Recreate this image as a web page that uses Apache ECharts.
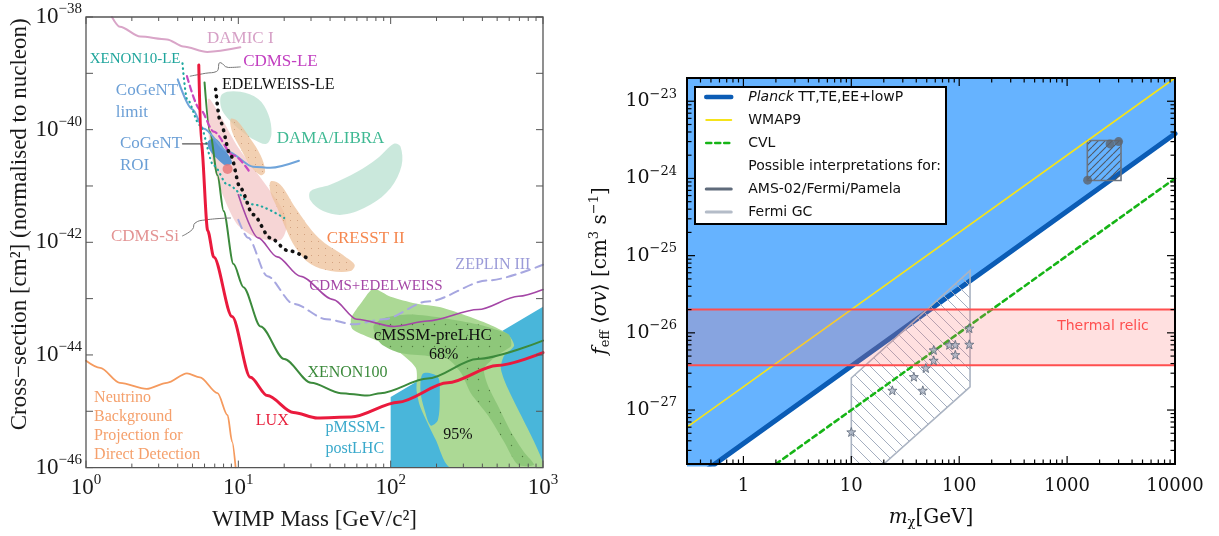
<!DOCTYPE html>
<html>
<head>
<meta charset="utf-8">
<script src="https://cdn.jsdelivr.net/npm/echarts@6/dist/echarts.min.js"></script>
<style>
html,body{margin:0;padding:0;background:#ffffff;}
#chart{width:1219px;height:536px;}
</style>
</head>
<body>
<div id="chart"></div>
<script>
// ================= LEFT PANEL DATA: WIMP mass [GeV/c^2] vs cross-section [cm^2] =================
const leftXRange = [1, 1000];
const leftYRange = [1e-46, 1e-38];
const leftXDecades = [1, 10, 100, 1000];
const leftYDecades = [1e-46, 1e-45, 1e-44, 1e-43, 1e-42, 1e-41, 1e-40, 1e-39, 1e-38];

const luxCurve = [[5.5,1.4e-39],[5.7,6e-41],[6.3,1.6e-42],[6.9,5.5e-43],[9.1,4.8e-44],[12,4e-45],[15.5,1.9e-45],[23,9.5e-46],[33,7.6e-46],[55,7.9e-46],[112,1.45e-45],[237,3.2e-45],[500,6.5e-45],[1000,1.1e-44]];
const xenon100Curve = [[6.0,6.9e-40],[6.5,9.2e-41],[7.3,1.55e-41],[8.0,3.6e-42],[9.3,4.1e-43],[10.8,1.6e-43],[14,3.2e-44],[20,8.5e-45],[30,3.2e-45],[47,2.1e-45],[70,1.9e-45],[86,2.1e-45],[175,3.8e-45],[370,8.5e-45],[1000,1.8e-44]];
const cdmsEdelweissCurve = [[10,7e-42],[13.5,1.2e-42],[18,5.5e-43],[25.5,2.5e-43],[42,9.6e-44],[60,4.3e-44],[105,3.2e-44],[175,4e-44],[375,6.4e-44],[690,1.1e-43],[1000,1.45e-43]];
const zeplinCurve = [[10,2.5e-42],[11.6,1.2e-42],[15.5,2.5e-43],[23,8.1e-44],[38,4.3e-44],[57,3.5e-44],[90,4.3e-44],[175,8.9e-44],[435,2.1e-43],[1000,4e-43]];
const xenon10LECurve = [[4.3,1.5e-39],[4.6,3.5e-40],[5.6,1.2e-40],[6.9,2.3e-41],[8.5,1.05e-41],[12.5,4.7e-42],[20,2.7e-42]];
const cdmsLECurve = [[4.6,8.9e-40],[5.6,2.3e-40],[6.9,9.2e-41],[9.3,3.5e-41],[12,1.7e-41]];
const edelweissLECurve = [[7.1,5.2e-40],[7.6,1.4e-40],[8.9,3.5e-41],[10.3,9.2e-42],[12.5,3.1e-42],[16.2,1.2e-42],[21,7.2e-43],[30,4.8e-43]];
const cogentLimitCurve = [[4.0,7.8e-40],[5.0,2.3e-40],[5.9,1.05e-40],[8.5,4.1e-41],[12.5,2.2e-41],[16.2,2.1e-41],[25,2.8e-41]];
const damicCurve = [[1.48,1e-38],[1.67,6.7e-39],[2.27,4.5e-39],[3.4,4e-39],[4.35,3e-39],[6.25,2.4e-39],[10.3,2.9e-39]];
const neutrinoCurve = [[1,7.9e-45],[1.24,5.9e-45],[1.67,3.2e-45],[2.5,2.5e-45],[3.4,3.2e-45],[4.6,4.7e-45],[5.6,4e-45],[7.3,2.1e-45],[8.5,8.5e-46],[9.1,2.9e-46],[9.6,1e-46]];

const cdmsSiRegion = [[6.3,3.5e-40],[6.5,4.7e-41],[7.6,9.2e-42],[9.8,2.1e-42],[13.3,1.2e-42],[18.9,1.1e-42],[20.7,1.8e-42],[19.8,3.6e-42],[14.6,1.2e-41],[9.8,5.2e-41],[7.6,1.8e-40],[6.5,3.5e-40]];
const damaLowRegion = [[7.85,4.3e-40],[10.3,4.7e-40],[13.5,3.5e-40],[15.7,1.9e-40],[16.5,8.5e-41],[15.3,5.6e-41],[12.9,6.5e-41],[10.6,9.2e-41],[8.6,1.55e-40],[7.7,2.5e-40]];
const damaHighRegion = [[29.8,8.1e-42],[40,1.05e-41],[60.7,1.8e-41],[82,3.1e-41],[105,5.6e-41],[116,5e-41],[118,2.3e-41],[100,9.2e-42],[74,4.7e-42],[49,3.1e-42],[36,3.6e-42],[29.8,5.5e-42]];
const cresstLowRegion = [[8.9,1.55e-40],[9.8,1.45e-40],[12,6.9e-41],[14,3.5e-41],[15,1.8e-41],[14,1.55e-41],[12,2.3e-41],[10.3,4.7e-41],[9.1,9.2e-41]];
const cresstHighRegion = [[16.3,1.2e-41],[18.9,1.05e-41],[23.7,4.1e-42],[33.6,1.2e-42],[50.6,5.5e-43],[58,4e-43],[54.6,3.1e-43],[40.3,3.1e-43],[29.8,4.1e-43],[23.7,8.1e-43],[20.4,1.8e-42],[18,4.1e-42],[16.3,7.6e-42]];
const cogentROIRegion = [[6.3,6.1e-41],[7.1,6.9e-41],[8.2,4.3e-41],[9.1,2.6e-41],[8.3,2.3e-41],[7.2,3.1e-41],[6.5,4.3e-41]];
const cdmsSiBestFit = [[8.5,2e-41]];
const pmssmRegion = [[100,1e-46],[100,1.8e-45],[1000,7.2e-44],[1000,1e-46]];
const cmssm95Region = [[77,1.5e-43],[100,1.08e-43],[146,8.2e-44],[213,7e-44],[311,5e-44],[441,3.5e-44],[589,2.3e-44],[646,1.45e-44],[554,9.6e-45],[529,5.7e-45],[589,2.5e-45],[717,8.5e-46],[873,2.9e-46],[1000,1.23e-46],[1000,1e-46],[248,1e-46],[198,3.1e-46],[157,1.17e-45],[148,2.3e-45],[146,5.9e-45],[105,1.3e-44],[74,2e-44],[56,2.9e-44],[55,4.5e-44],[65,8.9e-44]];
const cmssm95Gap = [[163,4.7e-45],[204,4.1e-45],[210,1.9e-45],[204,6.9e-46],[183,5.6e-46],[167,1.05e-45],[157,2.3e-45]];
const cmssm68Region = [[77,3.2e-44],[90,4.5e-44],[135,5.2e-44],[223,4.5e-44],[373,3.5e-44],[475,2.9e-44],[597,2.3e-44],[617,1.45e-44],[528,1.08e-44],[455,7.9e-45],[409,5.7e-45],[434,2.9e-45],[505,1.27e-45],[617,4.3e-46],[750,1.9e-46],[873,1.12e-46],[685,1.12e-46],[554,2.9e-46],[435,8.5e-46],[336,2.1e-45],[290,4.8e-45],[237,8.5e-45],[175,9.6e-45],[116,1.08e-44],[86,1.6e-44]];

const cdmsLELeader = [[10.3,1.3e-39],[8.6,1.27e-39],[7.6,1.55e-39],[7.2,1.08e-39],[6.07,1e-39],[4.83,8.9e-40]];
const cdmsSiLeader = [[4.3,1.3e-42],[5.0,1.7e-42],[5.2,2.2e-42],[6.1,2.5e-42],[8.9,2.7e-42]];
const cogentROILeader = [[4.3,5.6e-41],[6.25,5.6e-41]];

// label text + anchor (mass, cross-section)
const leftLabels = [
  ['DAMIC I', 10.3, 4.1e-39],
  ['XENON10-LE', 2.1, 1.76e-39],
  ['CDMS-LE', 18.9, 1.62e-39],
  ['EDELWEISS-LE', 18.3, 6.2e-40],
  ['CoGeNT\nlimit', 1.57, 3.2e-40],
  ['CoGeNT\nROI', 1.67, 3.6e-41],
  ['DAMA/LIBRA', 40.3, 6.9e-41],
  ['CRESST II', 68.5, 1.17e-42],
  ['CDMS-Si', 2.44, 1.27e-42],
  ['ZEPLIN III', 469, 4e-43],
  ['CDMS+EDELWEISS', 80, 1.7e-43],
  ['cMSSM-preLHC', 189, 2.24e-44],
  ['68%', 223, 1.0e-44],
  ['XENON100', 52, 4.8e-45],
  ['LUX', 16.7, 6.7e-46],
  ['pMSSM-\npostLHC', 37.3, 3.3e-46],
  ['95%', 276, 3.8e-46],
  ['Neutrino\nBackground\nProjection for\nDirect Detection', 1.13, 5.4e-46]
];

// ================= RIGHT PANEL DATA: m_chi [GeV] vs f_eff <sigma v> [cm^3 s^-1] =================
const rightXRange = [0.3, 10000];
const rightYRange = [2e-28, 2e-23];
const rightXDecades = [1, 10, 100, 1000, 10000];
const rightXMinorDecades = [0.1, 1, 10, 100, 1000];
const rightYDecades = [1e-27, 1e-26, 1e-25, 1e-24, 1e-23];
const rightYMinorDecades = [1e-28, 1e-27, 1e-26, 1e-25, 1e-24, 1e-23];
const minorMultipliers = [2, 3, 4, 5, 6, 7, 8, 9];

const planckLine = [[0.3, 1.1e-28], [10000, 3.8e-24]];
const wmap9Line = [[0.3, 6e-28], [10000, 2e-23]];
const cvlLine = [[2, 2e-28], [10000, 1e-24]];
const thermalRelic = [3.8e-27, 2e-26];
const thermalLabel = [[2150, 1.2e-26]];
const amsBox = [[1540, 9.4e-25], [3160, 9.4e-25], [3160, 3.1e-24], [1540, 3.1e-24]];
const amsPoints = [[1550, 9.5e-25], [2500, 2.8e-24], [3000, 3.0e-24]];
const fermiGCRegion = [[10, 2e-28], [10, 2.6e-27], [126, 6.4e-26], [126, 2e-27], [20, 2e-28]];
const fermiGCPoints = [[10,5.2e-28],[24,1.8e-27],[38,2.7e-27],[46,1.8e-27],[49,3.5e-27],[58,4.4e-27],[58,6e-27],[81,7e-27],[92,7e-27],[92,5.2e-27],[124,7.1e-27],[124,1.15e-26]];

// ================= unit scaling (ECharts log axes lose precision near 1e-40) =================
const LEFT_EXP = 40, RIGHT_EXP = 28;
const LK = Math.pow(10, LEFT_EXP), RK = Math.pow(10, RIGHT_EXP);
const sL = pts => pts.map(p => [p[0], p[1] * LK]);
const sR = pts => pts.map(p => [p[0], p[1] * RK]);
const LYR = leftYRange.map(v => v * LK), RYR = rightYRange.map(v => v * RK);

// ================= STYLES =================
const FONT_L = '"Liberation Serif", "Times New Roman", serif';
const FONT_R = '"DejaVu Serif", serif';
const FONT_S = '"DejaVu Sans", sans-serif';
const MINUS = '\u2212';

const labelStyle = {
  'DAMIC I': {c:'#d6a0c6', s:17, a:'center'},
  'XENON10-LE': {c:'#1fa59c', s:15, a:'center'},
  'CDMS-LE': {c:'#c23fc0', s:17, a:'center'},
  'EDELWEISS-LE': {c:'#111111', s:16, a:'center'},
  'CoGeNT\nlimit': {c:'#6b9fd6', s:17, a:'left', lh:22},
  'CoGeNT\nROI': {c:'#6b9fd6', s:17, a:'left', lh:22},
  'DAMA/LIBRA': {c:'#3fb993', s:17, a:'center'},
  'CRESST II': {c:'#f5874f', s:17, a:'center'},
  'CDMS-Si': {c:'#e39393', s:17, a:'center'},
  'ZEPLIN III': {c:'#9b9bd8', s:16, a:'center'},
  'CDMS+EDELWEISS': {c:'#a446a6', s:15, a:'center'},
  'cMSSM-preLHC': {c:'#111111', s:17, a:'center'},
  '68%': {c:'#111111', s:16, a:'center'},
  'XENON100': {c:'#3b8a3b', s:16, a:'center'},
  'LUX': {c:'#e8203c', s:16, a:'center'},
  'pMSSM-\npostLHC': {c:'#3aa9cb', s:16, a:'left', lh:21},
  '95%': {c:'#111111', s:16, a:'center'},
  'Neutrino\nBackground\nProjection for\nDirect Detection': {c:'#f5a06c', s:16, a:'left', lh:19}
};

function makeHatch(size, color, lw, dir, bg) {
  const c = document.createElement('canvas');
  c.width = size; c.height = size;
  const g = c.getContext('2d');
  if (bg) { g.fillStyle = bg; g.fillRect(0, 0, size, size); }
  g.strokeStyle = color; g.lineWidth = lw;
  g.beginPath();
  for (let k = -1; k <= 1; k++) {
    if (dir === '/') { g.moveTo(k * size, size); g.lineTo(k * size + size, 0); }
    else { g.moveTo(k * size, 0); g.lineTo(k * size + size, size); }
  }
  g.stroke();
  return {image: c, repeat: 'repeat'};
}
function makeDots(size, bg, dot, r) {
  const c = document.createElement('canvas');
  c.width = size; c.height = size;
  const g = c.getContext('2d');
  g.fillStyle = bg; g.fillRect(0, 0, size, size);
  g.fillStyle = dot; g.beginPath(); g.arc(size / 2, size / 2, r, 0, Math.PI * 2); g.fill();
  return {image: c, repeat: 'repeat'};
}

function polySeries(pts, idx, style, z, smooth) {
  return {
    type: 'custom', xAxisIndex: idx, yAxisIndex: idx, z: z, silent: true, clip: true, animation: false,
    data: [pts[0]],
    renderItem: function (p, api) {
      return {type: 'polygon', shape: {points: pts.map(q => api.coord(q)), smooth: smooth || 0}, style: style};
    }
  };
}
function lineSeries(name, pts, idx, color, width, type, z, extra) {
  return Object.assign({
    name: name, type: 'line', xAxisIndex: idx, yAxisIndex: idx, data: pts, symbol: 'none',
    smooth: 0.3, smoothMonotone: 'x', silent: true, animation: false, z: z || 8,
    lineStyle: {color: color, width: width, type: type || 'solid', cap: 'round'}
  }, extra || {});
}
function tickItems(xDec, xMinorDec, yDec, yMinorDec, xr, yr, majLen, minLen) {
  const items = [];
  const inX = v => v > xr[0] * 1.001 && v < xr[1] * 0.999;
  const inY = v => v > yr[0] * 1.001 && v < yr[1] * 0.999;
  xDec.forEach(d => { if (d >= xr[0] * 0.999 && d <= xr[1] * 1.001) items.push([d, yr[0], majLen, 0]); });
  (xMinorDec || []).forEach(d => minorMultipliers.forEach(m => { const v = d * m; if (inX(v)) items.push([v, yr[0], minLen, 0]); }));
  yDec.forEach(d => { if (d >= yr[0] * 0.999 && d <= yr[1] * 1.001) items.push([xr[0], d, majLen, 1]); });
  (yMinorDec || []).forEach(d => minorMultipliers.forEach(m => { const v = d * m; if (inY(v)) items.push([xr[0], v, minLen, 1]); }));
  items.push([xr[0], yr[0], 0, 2]);
  return items;
}
function tickSeries(idx, items, xr, yr, color, lw, frameW) {
  return {
    type: 'custom', xAxisIndex: idx, yAxisIndex: idx, z: 30, silent: true, clip: false, animation: false,
    data: items,
    renderItem: function (p, api) {
      const k = api.value(3), len = api.value(2);
      const st = {stroke: color, lineWidth: lw};
      if (k === 0) {
        const a = api.coord([api.value(0), yr[0]]), b = api.coord([api.value(0), yr[1]]);
        return {type: 'group', children: [
          {type: 'line', shape: {x1: a[0], y1: a[1], x2: a[0], y2: a[1] - len}, style: st},
          {type: 'line', shape: {x1: b[0], y1: b[1], x2: b[0], y2: b[1] + len}, style: st}]};
      } else if (k === 1) {
        const a = api.coord([xr[0], api.value(1)]), b = api.coord([xr[1], api.value(1)]);
        return {type: 'group', children: [
          {type: 'line', shape: {x1: a[0], y1: a[1], x2: a[0] + len, y2: a[1]}, style: st},
          {type: 'line', shape: {x1: b[0], y1: b[1], x2: b[0] - len, y2: b[1]}, style: st}]};
      }
      const tl = api.coord([xr[0], yr[1]]), br = api.coord([xr[1], yr[0]]);
      return {type: 'rect', shape: {x: tl[0], y: tl[1], width: br[0] - tl[0], height: br[1] - tl[1]},
        style: {fill: 'none', stroke: color, lineWidth: frameW}};
    }
  };
}
function isPow10(v) {
  const l = Math.log10(v), e = Math.round(l);
  return Math.abs(l - e) < 1e-6 ? e : null;
}
function supLabel(e) { return '{b|10}{s|' + (e < 0 ? MINUS + (-e) : String(e)) + '}'; }

const leftRich = {
  b: {fontFamily: FONT_L, fontSize: 23, color: '#1a1a1a', lineHeight: 24},
  s: {fontFamily: FONT_L, fontSize: 15, color: '#1a1a1a', lineHeight: 16, padding: [0, 0, 16, 0]}
};
const rightRich = {
  b: {fontFamily: FONT_R, fontSize: 19, color: '#111', lineHeight: 20},
  s: {fontFamily: FONT_R, fontSize: 13, color: '#111', lineHeight: 14, padding: [0, 0, 14, 0]}
};
const nameRichR = {
  n: {fontFamily: FONT_R, fontSize: 20, color: '#111'},
  i: {fontFamily: FONT_R, fontSize: 20, fontStyle: 'italic', color: '#111'},
  sub: {fontFamily: FONT_R, fontSize: 13, color: '#111', padding: [10, 0, 0, 0]},
  sup: {fontFamily: FONT_R, fontSize: 13, color: '#111', padding: [0, 0, 12, 0]}
};

const starPath = 'path://M0,-10 L2.35,-3.24 L9.51,-3.09 L3.8,1.24 L5.88,8.09 L0,4 L-5.88,8.09 L-3.8,1.24 L-9.51,-3.09 L-2.35,-3.24 Z';

const series = [
  // ---------- left panel ----------
  polySeries(sL(pmssmRegion), 0, {fill: '#49b6da'}, 1),
  polySeries(sL(cmssm95Region), 0, {fill: '#acd995'}, 2, 0.25),
  polySeries(sL(cmssm95Gap), 0, {fill: '#49b6da'}, 3, 0.3),
  polySeries(sL(cmssm68Region), 0, {fill: makeDots(11, '#8ec77a', '#4e7a3e', 0.7)}, 4, 0.25),
  polySeries(sL(damaLowRegion), 0, {fill: 'rgba(150,210,185,0.5)'}, 5, 0.35),
  polySeries(sL(damaHighRegion), 0, {fill: 'rgba(150,210,185,0.5)'}, 5, 0.35),
  polySeries(sL(cdmsSiRegion), 0, {fill: 'rgba(232,150,150,0.4)'}, 5, 0.25),
  polySeries(sL(cresstLowRegion), 0, {fill: makeDots(7, 'rgba(238,192,152,0.75)', '#c99270', 0.5)}, 5, 0.35),
  polySeries(sL(cresstHighRegion), 0, {fill: makeDots(7, 'rgba(238,192,152,0.75)', '#c99270', 0.5)}, 5, 0.35),
  polySeries(sL(cogentROIRegion), 0, {fill: '#5c96d2'}, 6, 0.35),
  lineSeries('DAMIC I', sL(damicCurve), 0, '#d9a5c8', 2, 'solid', 8),
  lineSeries('Neutrino', sL(neutrinoCurve), 0, '#f59a5e', 1.8, 'solid', 8),
  lineSeries('ZEPLIN III', sL(zeplinCurve), 0, '#a7a7e0', 2, [9, 6], 8),
  lineSeries('CDMS+EDELWEISS', sL(cdmsEdelweissCurve), 0, '#a446a6', 1.6, 'solid', 8),
  lineSeries('XENON100', sL(xenon100Curve), 0, '#3c8a3c', 2, 'solid', 8),
  lineSeries('LUX', sL(luxCurve), 0, '#ea1a3d', 3, 'solid', 9),
  lineSeries('CoGeNT limit', sL(cogentLimitCurve), 0, '#6fa4da', 2, 'solid', 8),
  lineSeries('XENON10-LE', sL(xenon10LECurve), 0, '#1fa8a0', 2.2, [0.5, 4.5], 8),
  lineSeries('CDMS-LE', sL(cdmsLECurve), 0, '#c848c0', 2.2, [6, 4], 8),
  lineSeries('EDELWEISS-LE', sL(edelweissLECurve), 0, '#111111', 3.6, [0.5, 6.5], 8),
  lineSeries('leader1', sL(cdmsLELeader), 0, '#777777', 1, 'solid', 8, {smoothMonotone: undefined, smooth: 0.5}),
  lineSeries('leader2', sL(cdmsSiLeader), 0, '#777777', 1, 'solid', 8, {smoothMonotone: undefined, smooth: 0.5}),
  lineSeries('leader3', sL(cogentROILeader), 0, '#555555', 1.2, 'solid', 8, {smooth: false}),
  {type: 'scatter', xAxisIndex: 0, yAxisIndex: 0, data: sL(cdmsSiBestFit), symbol: 'circle', symbolSize: 10,
   itemStyle: {color: '#e87474'}, z: 9, silent: true, animation: false},
  {type: 'custom', xAxisIndex: 0, yAxisIndex: 0, z: 12, silent: true, clip: false, animation: false,
   data: leftLabels.map((l, i) => [l[1], l[2] * LK, i]),
   renderItem: function (p, api) {
     const l = leftLabels[api.value(2)], s = labelStyle[l[0]], pt = api.coord([l[1], l[2] * LK]);
     return {type: 'text', x: pt[0], y: pt[1], style: {text: l[0], fill: s.c, fontSize: s.s, fontFamily: FONT_L,
       align: s.a, verticalAlign: 'middle', lineHeight: s.lh || s.s + 2}};
   }},
  tickSeries(0, tickItems(leftXDecades, [1, 10, 100], leftYDecades.map(v => v * LK), null, leftXRange, LYR, 7, 4),
    leftXRange, LYR, '#555555', 1, 1.3),

  // ---------- right panel ----------
  lineSeries('Planck TT,TE,EE+lowP', sR(planckLine), 1, '#0b5cb5', 5, 'solid', 3,
    {smooth: false, areaStyle: {color: '#66b3ff', opacity: 1, origin: 'end'}}),
  polySeries(sR(fermiGCRegion), 1, {fill: makeHatch(12, '#a4aec0', 1, '\\'), stroke: '#aab3c2', lineWidth: 1.6}, 4),
  polySeries(sR(amsBox), 1, {fill: makeHatch(7, '#4f5967', 1.1, '/'), stroke: '#6d7580', lineWidth: 1.6}, 4),
  lineSeries('WMAP9', sR(wmap9Line), 1, '#f5e31a', 1.6, 'solid', 5, {smooth: false}),
  lineSeries('CVL', sR(cvlLine), 1, '#16b416', 2.6, [5, 4], 5, {smooth: false}),
  polySeries(sR([[rightXRange[0], thermalRelic[0]], [rightXRange[1], thermalRelic[0]], [rightXRange[1], thermalRelic[1]], [rightXRange[0], thermalRelic[1]]]),
    1, {fill: 'rgba(255,115,115,0.22)'}, 6),
  lineSeries('relicLo', sR([[rightXRange[0], thermalRelic[0]], [rightXRange[1], thermalRelic[0]]]), 1, '#ff4f4f', 2, 'solid', 7, {smooth: false}),
  lineSeries('relicHi', sR([[rightXRange[0], thermalRelic[1]], [rightXRange[1], thermalRelic[1]]]), 1, '#ff4f4f', 2, 'solid', 7, {smooth: false}),
  {type: 'scatter', xAxisIndex: 1, yAxisIndex: 1, data: sR(amsPoints), symbol: 'circle', symbolSize: 9,
   itemStyle: {color: '#5d636b'}, z: 8, silent: true, animation: false},
  {type: 'scatter', xAxisIndex: 1, yAxisIndex: 1, data: sR(fermiGCPoints), symbol: starPath, symbolSize: 9,
   itemStyle: {color: '#a7b1c3', borderColor: '#5b6678', borderWidth: 1}, z: 8, silent: true, animation: false},
  {type: 'custom', xAxisIndex: 1, yAxisIndex: 1, z: 9, silent: true, clip: false, animation: false,
   data: sR(thermalLabel),
   renderItem: function (p, api) {
     const pt = api.coord([api.value(0), api.value(1)]);
     return {type: 'text', x: pt[0], y: pt[1], style: {text: 'Thermal relic', fill: '#ff4f4f', fontSize: 14,
       fontFamily: FONT_S, align: 'center', verticalAlign: 'middle'}};
   }},
  lineSeries('Possible interpretations for:', [], 1, 'rgba(0,0,0,0)', 2, 'solid', 1),
  lineSeries('AMS-02/Fermi/Pamela', [], 1, '#5f6b7b', 2.5, 'solid', 1),
  lineSeries('Fermi GC', [], 1, '#b4bcc8', 2.5, 'solid', 1),
  tickSeries(1, tickItems(rightXDecades, rightXMinorDecades, rightYDecades.map(v => v * RK), rightYMinorDecades.map(v => v * RK), rightXRange, RYR, 8, 4.5),
    rightXRange, RYR, '#000000', 1.2, 2)
];

const option = {
  animation: false,
  backgroundColor: '#ffffff',
  grid: [
    {left: 86, top: 17, width: 457, height: 456, show: false},
    {left: 687, top: 78, width: 488, height: 386, show: false}
  ],
  xAxis: [
    {gridIndex: 0, type: 'log', logBase: 10, min: leftXRange[0], max: leftXRange[1],
     axisLine: {show: false}, axisTick: {show: false}, splitLine: {show: false},
     axisLabel: {margin: 8, rich: leftRich, formatter: v => { const e = isPow10(v); return e === null ? '' : supLabel(e); }},
     name: 'WIMP Mass [GeV/c\u00b2]', nameLocation: 'middle', nameGap: 36,
     nameTextStyle: {fontFamily: FONT_L, fontSize: 23, color: '#1a1a1a'}},
    {gridIndex: 1, type: 'log', logBase: 10, min: rightXRange[0], max: rightXRange[1],
     axisLine: {show: false}, axisTick: {show: false}, splitLine: {show: false},
     axisLabel: {margin: 13, fontFamily: FONT_R, fontSize: 18, color: '#111',
       formatter: v => { const e = isPow10(v); return e === null ? '' : String(Math.round(Math.pow(10, e))); }},
     name: '{i|m}{sub|\u03c7}{n|[GeV]}', nameLocation: 'middle', nameGap: 42,
     nameTextStyle: {rich: nameRichR}}
  ],
  yAxis: [
    {gridIndex: 0, type: 'log', logBase: 10, min: LYR[0], max: LYR[1],
     axisLine: {show: false}, axisTick: {show: false}, splitLine: {show: false},
     axisLabel: {margin: 4, rich: leftRich, formatter: v => { const e = isPow10(v); if (e === null) return ''; const E = e - LEFT_EXP; return E % 2 !== 0 ? '' : supLabel(E); }},
     name: 'Cross' + MINUS + 'section [cm\u00b2] (normalised to nucleon)', nameLocation: 'middle', nameGap: 44, nameRotate: 90,
     nameTextStyle: {fontFamily: FONT_L, fontSize: 23, color: '#1a1a1a', padding: [0, 0, 0, 36]}},
    {gridIndex: 1, type: 'log', logBase: 10, min: RYR[0], max: RYR[1],
     axisLine: {show: false}, axisTick: {show: false}, splitLine: {show: false},
     axisLabel: {margin: 10, rich: rightRich, formatter: v => { const e = isPow10(v); return e === null ? '' : supLabel(e - RIGHT_EXP); }},
     name: '{i|f}{sub|eff}{n| \u27e8}{i|\u03c3v}{n|\u27e9 [cm}{sup|3}{n| s}{sup|' + MINUS + '1}{n|]}',
     nameLocation: 'middle', nameGap: 74, nameRotate: 90,
     nameTextStyle: {rich: nameRichR}}
  ],
  legend: {
    left: 695, top: 87, orient: 'vertical', selectedMode: false,
    backgroundColor: '#ffffff', borderColor: '#000000', borderWidth: 2, borderRadius: 0,
    padding: [3, 5, 5, 9], itemGap: 9, itemWidth: 25, itemHeight: 14,
    itemStyle: {opacity: 0},
    textStyle: {fontFamily: FONT_S, fontSize: 14, color: '#111', padding: [0, 0, 0, 12],
      rich: {i: {fontFamily: FONT_S, fontSize: 14, fontStyle: 'italic', color: '#111'}}},
    formatter: n => n === 'Planck TT,TE,EE+lowP' ? '{i|Planck} TT,TE,EE+lowP' : n,
    data: [
      {name: 'Planck TT,TE,EE+lowP', lineStyle: {width: 4.5}},
      {name: 'WMAP9', lineStyle: {width: 2}},
      {name: 'CVL', lineStyle: {width: 2.6}},
      {name: 'Possible interpretations for:'},
      {name: 'AMS-02/Fermi/Pamela', lineStyle: {width: 3}},
      {name: 'Fermi GC', lineStyle: {width: 3}}
    ]
  },
  series: series
};

const chart = echarts.init(document.getElementById('chart'), null, {renderer: 'canvas'});
chart.setOption(option);
</script>
</body>
</html>
